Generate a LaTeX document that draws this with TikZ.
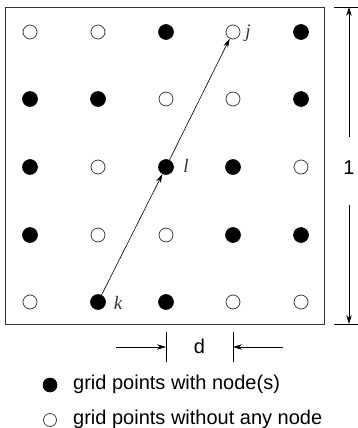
\documentclass[tikz,border=0pt]{standalone}
\usepackage{fontspec}
\setmainfont{Liberation Sans}
\newfontfamily\serifit{Liberation Serif}[ItalicFont={Liberation Serif Italic}]
\usetikzlibrary{arrows.meta}
\begin{document}
\begin{tikzpicture}[x=1pt,y=-1pt,
  full/.style={circle,fill=black,draw=black,line width=0.6pt,minimum size=15pt,inner sep=0pt},
  empty/.style={circle,fill=white,draw=black!75,line width=0.8pt,minimum size=14pt,inner sep=0pt},
  lab/.style={font=\fontsize{19}{19}\selectfont\serifit\itshape,text=black!80,inner sep=0pt},
  txt/.style={font=\fontsize{20}{20}\selectfont,inner sep=0pt},
  conn/.style={line width=0.6pt,-{Stealth[length=9pt,width=5pt]}},
  dim/.style={line width=0.7pt,-{Stealth[length=9pt,width=5.5pt]}},
  tick/.style={line width=0.8pt}]
\useasboundingbox (0,0) rectangle (358,428);
\node[draw=black!80,line width=0.9pt,minimum width=319pt,minimum height=317pt,inner sep=0pt] (frame) at (164.5,165.5) {};
% row 1
\node[empty] (p11) at (30,32) {};
\node[empty] (p12) at (98,32) {};
\node[full]  (p13) at (166,32) {};
\node[empty] (j)   at (233,32) {};
\node[full]  (p15) at (301,32) {};
% row 2
\node[full]  (p21) at (30,99) {};
\node[full]  (p22) at (98,99) {};
\node[empty] (p23) at (166,99) {};
\node[empty] (p24) at (233,99) {};
\node[full]  (p25) at (301,99) {};
% row 3
\node[full]  (p31) at (30,167) {};
\node[empty] (p32) at (98,167) {};
\node[full]  (l)   at (166,167) {};
\node[full]  (p34) at (233,167) {};
\node[empty] (p35) at (301,167) {};
% row 4
\node[full]  (p41) at (30,235) {};
\node[empty] (p42) at (98,235) {};
\node[empty] (p43) at (166,235) {};
\node[full]  (p44) at (233,235) {};
\node[full]  (p45) at (301,235) {};
% row 5
\node[empty] (p51) at (30,302) {};
\node[full]  (k)   at (98,302) {};
\node[full]  (p53) at (166,302) {};
\node[empty] (p54) at (233,302) {};
\node[empty] (p55) at (301,302) {};
% labels
\node[lab] (lj) at (248,33) {j};
\node[lab] (ll) at (186,166) {l};
\node[lab] (lk) at (118,303) {k};
% connectors
\draw[conn] (k) -- (l);
\draw[conn] (l) -- (j);
% right dimension
\coordinate (rt1) at (334,7);
\coordinate (rt2) at (358,7);
\coordinate (rb1) at (334,324);
\coordinate (rb2) at (358,324);
\draw[tick] (rt1) -- (rt2);
\draw[tick] (rb1) -- (rb2);
\coordinate (ra) at (349,137);
\coordinate (rat) at (349,7);
\coordinate (rb) at (349,205);
\coordinate (rbt) at (349,324);
\draw[dim] (ra) -- (rat);
\draw[dim] (rb) -- (rbt);
\node[txt] (one) at (349,168) {1};
% bottom dimension
\coordinate (dl1) at (166,332);
\coordinate (dl2) at (166,362);
\coordinate (dr1) at (233,332);
\coordinate (dr2) at (233,362);
\draw[tick] (dl1) -- (dl2);
\draw[tick] (dr1) -- (dr2);
\coordinate (dla) at (116,347);
\coordinate (dlt) at (166,347);
\coordinate (dra) at (283,347);
\coordinate (drt) at (233,347);
\draw[dim] (dla) -- (dlt);
\draw[dim] (dra) -- (drt);
\node[txt] (d) at (199.5,346) {d};
% legend
\node[full,minimum size=14pt] (lg1) at (50,385) {};
\node[txt,anchor=west] (lt1) at (73,384) {grid points with node(s)};
\node[empty,minimum size=13pt] (lg2) at (50,420) {};
\node[txt,anchor=west] (lt2) at (73,419) {grid points without any node};
\end{tikzpicture}
\end{document}
